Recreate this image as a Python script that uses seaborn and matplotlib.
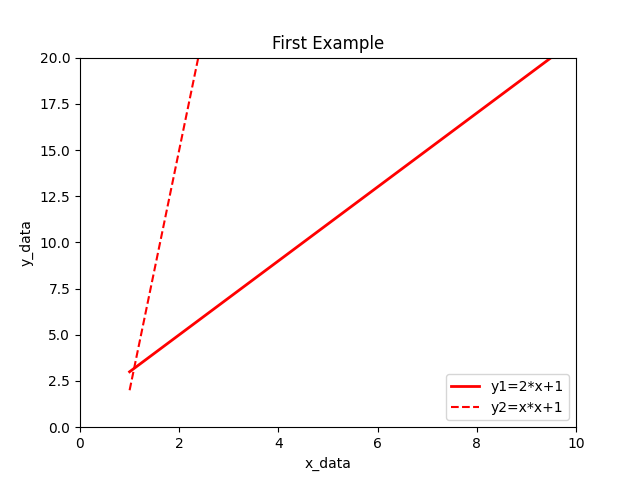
import matplotlib
matplotlib.use("Agg")
import matplotlib.pyplot as plt
import seaborn as sns
import pandas as pd

x_data = [1, 12]
y1_data = [3, 25]     # y1 = 2*x + 1
y2_data = [2, 145]    # y2 = x*x + 1

df = pd.DataFrame({"x": x_data, "y1": y1_data, "y2": y2_data})

fig, ax = plt.subplots(figsize=(6.4, 4.8), dpi=100)
sns.lineplot(data=df, x="x", y="y1", ax=ax, color="red", linewidth=2.0,
             label="y1=2*x+1")
sns.lineplot(data=df, x="x", y="y2", ax=ax, color="red", linewidth=1.5,
             linestyle="--", label="y2=x*x+1")
ax.set_xlim(0, 10)
ax.set_ylim(0, 20)
ax.set_xlabel("x_data")
ax.set_ylabel("y_data")
ax.set_title("First Example")
ax.legend(loc="lower right")
fig.savefig("out.png", dpi=100)
